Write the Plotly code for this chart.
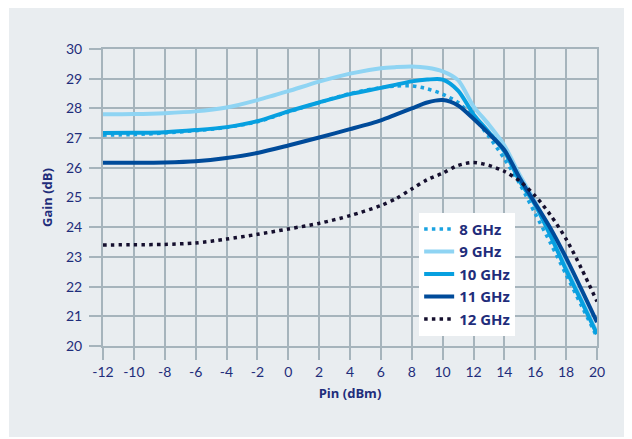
import plotly.graph_objects as go

pin = [-12, -10, -8, -6, -4, -2, 0, 2, 4, 6, 7, 8, 9, 10, 11, 12, 13, 14, 15, 16, 17, 18, 19, 20]

gain_8 = [27.10, 27.12, 27.17, 27.25, 27.36, 27.55, 27.88, 28.20, 28.50, 28.70, 28.75, 28.76,
          28.66, 28.48, 28.20, 27.70, 27.05, 26.30, 25.45, 24.45, 23.45, 22.40, 21.35, 20.30]
gain_9 = [27.80, 27.81, 27.84, 27.90, 28.03, 28.28, 28.58, 28.90, 29.17, 29.35, 29.39, 29.41,
          29.37, 29.25, 28.95, 28.07, 27.45, 26.75, 25.75, 24.85, 23.80, 22.65, 21.55, 20.45]
gain_10 = [27.17, 27.18, 27.20, 27.27, 27.37, 27.57, 27.90, 28.20, 28.48, 28.69, 28.80, 28.91,
           28.97, 28.97, 28.60, 27.80, 27.20, 26.55, 25.55, 24.75, 23.70, 22.56, 21.50, 20.40]
gain_11 = [26.17, 26.17, 26.18, 26.22, 26.33, 26.50, 26.75, 27.02, 27.30, 27.60, 27.80, 28.00,
           28.20, 28.28, 28.10, 27.65, 27.15, 26.60, 25.65, 24.80, 23.95, 22.97, 21.90, 20.80]
gain_12 = [23.40, 23.41, 23.42, 23.47, 23.60, 23.76, 23.94, 24.13, 24.39, 24.73, 24.97, 25.29,
           25.60, 25.82, 26.08, 26.18, 26.08, 25.88, 25.55, 25.05, 24.40, 23.60, 22.60, 21.50]

series_names = ["8 GHz", "9 GHz", "10 GHz", "11 GHz", "12 GHz"]
series_values = [gain_8, gain_9, gain_10, gain_11, gain_12]
series_colors = ["#1aa3e1", "#8fd4f3", "#07a0e0", "#004b9a", "#150f2e"]
series_dash = ["3.5px,4.2px", "solid", "solid", "solid", "3.5px,4.2px"]
series_width = [3.5, 4, 4, 4, 3.5]

x_ticks = list(range(-12, 21, 2))
y_ticks = list(range(20, 31, 1))

BG = "#e9edf0"
GRID = "#a6b4bc"
TXT = "#1f2d7b"
FONT = "Lato"
BFONT = "Open Sans"

fig = go.Figure()
for i, (nm, vals, col, dsh, w) in enumerate(zip(series_names, series_values, series_colors,
                                                  series_dash, series_width)):
    fig.add_trace(go.Scatter(
        x=pin, y=vals, mode="lines", name=nm, legendgroup=f"g{i}",
        line=dict(color=col, width=w, dash=dsh, shape="spline", smoothing=0.8),
    ))

fig.add_shape(type="rect", xref="paper", yref="paper",
              x0=-0.1903, x1=1.0648, y0=-0.3064, y1=1.2,
              fillcolor=BG, line=dict(width=0), layer="below")

fig.update_layout(
    width=624, height=431,
    margin=dict(l=95, r=35, t=41, b=93),
    paper_bgcolor="white", plot_bgcolor=BG,
    font=dict(family=FONT, color=TXT, size=14),
    legend=dict(x=0.64, y=0.449, xanchor="left", yanchor="top",
                bgcolor="white", borderwidth=0, tracegroupgap=0,
                font=dict(family=BFONT, size=15, color=TXT, weight="bold")),
    showlegend=True,
)

fig.update_xaxes(
    range=[-12, 20], tickvals=x_ticks, ticktext=[str(v) for v in x_ticks],
    showgrid=True, gridcolor=GRID, gridwidth=2,
    showline=True, linecolor=GRID, linewidth=2, mirror=True,
    ticks="outside", ticklen=12, tickwidth=2, tickcolor=GRID,
    tickfont=dict(family=FONT, size=14, color=TXT),
    zeroline=False,
    title=dict(text="Pin (dBm)", font=dict(family=BFONT, size=13, color=TXT, weight="bold"),
               standoff=10),
)
fig.update_yaxes(
    range=[20, 30], tickvals=y_ticks, ticktext=[str(v) for v in y_ticks],
    showgrid=True, gridcolor=GRID, gridwidth=2,
    showline=True, linecolor=GRID, linewidth=2, mirror=True,
    ticks="outside", ticklen=12, tickwidth=2, tickcolor=GRID,
    ticklabelstandoff=4,
    tickfont=dict(family=FONT, size=14, color=TXT),
    zeroline=False,
    title=dict(text="Gain (dB)", font=dict(family=BFONT, size=13, color=TXT, weight="bold"),
               standoff=10),
)

fig.write_html("out.html")
